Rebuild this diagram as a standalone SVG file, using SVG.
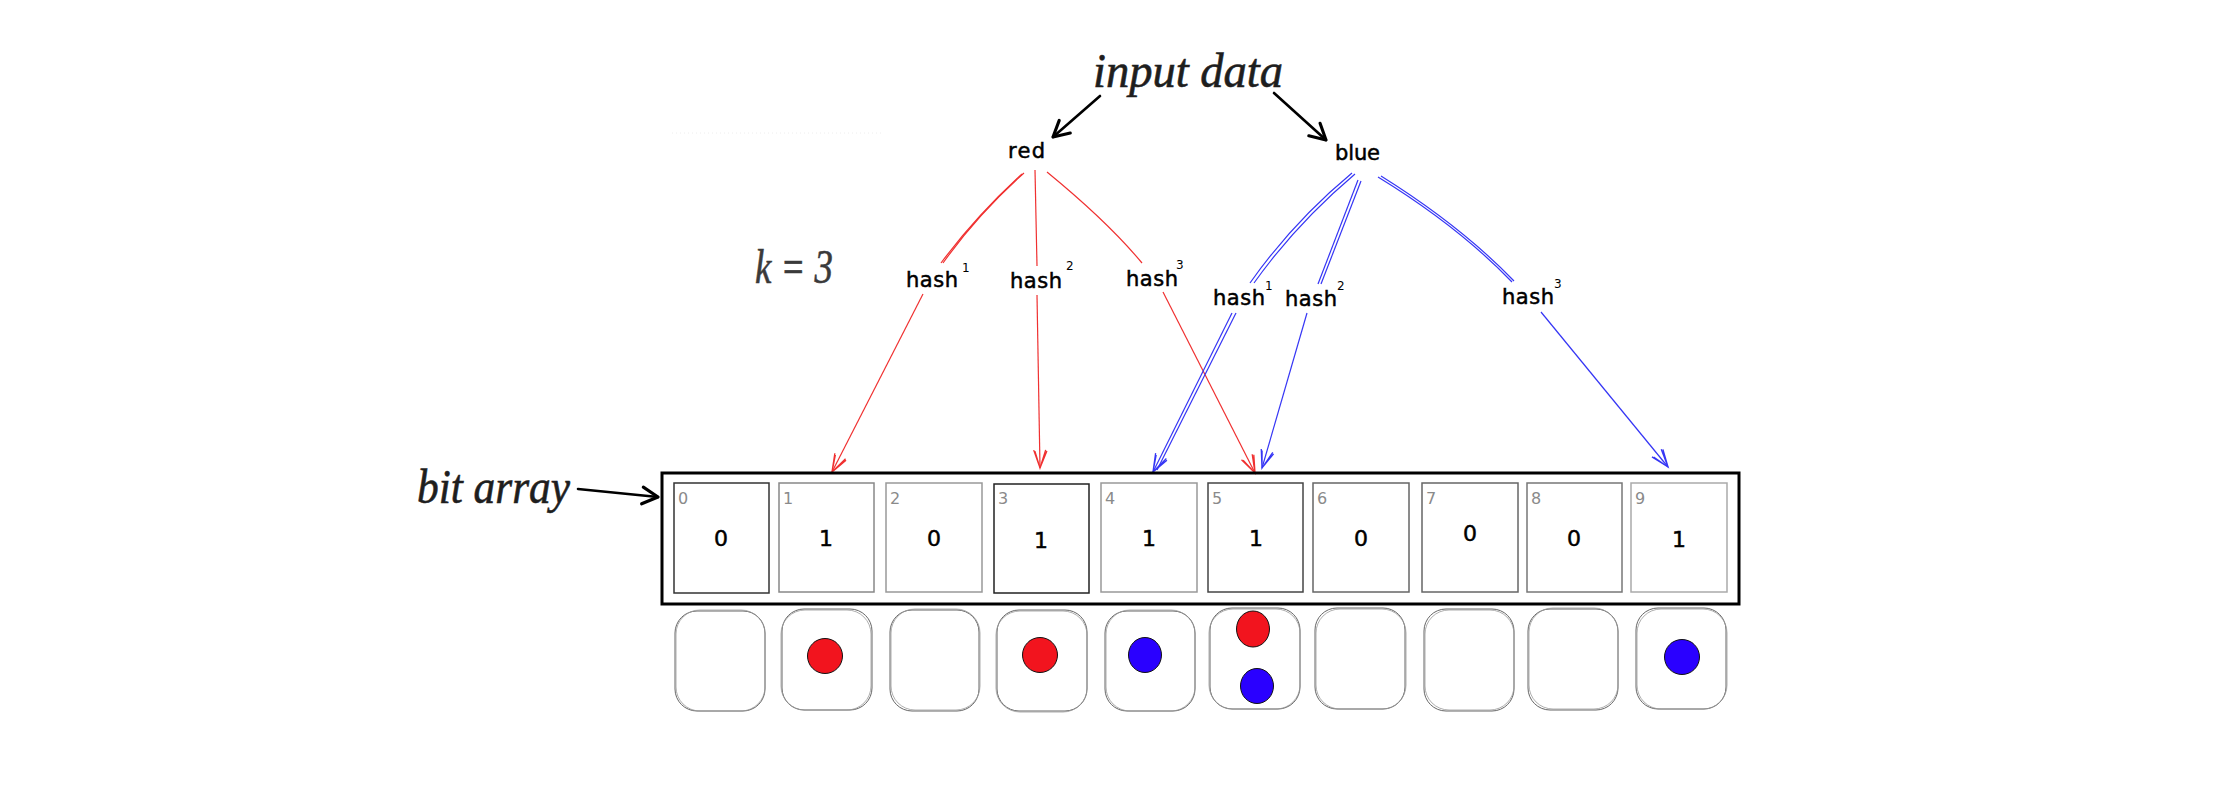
<svg xmlns="http://www.w3.org/2000/svg" width="2220" height="801" viewBox="0 0 2220 801">
<style>
  .title { font-family: "Liberation Serif", serif; font-style: italic; font-size: 48px; fill: #1e1e1e; stroke: #1e1e1e; stroke-width: 0.6px; }
  .lbl { font-family: "DejaVu Sans", sans-serif; font-size: 21px; fill: #000; stroke: #000; stroke-width: 0.5px; }
  .sup { font-family: "DejaVu Sans", sans-serif; font-size: 12px; fill: #000; }
  .idx { font-family: "DejaVu Sans", sans-serif; font-size: 16px; fill: #8a8a8a; }
  .val { font-family: "DejaVu Sans", sans-serif; font-size: 22px; fill: #000; stroke: #000; stroke-width: 0.5px; text-anchor: middle; }
  .cell { fill: #fff; stroke-width: 1.5; }
  .slot { fill: none; stroke: #666; stroke-width: 1; }
  .slot2 { fill: none; stroke: #999; stroke-width: 0.8; }
  .red { fill: none; stroke: #f03030; stroke-width: 1.2; }
  .blue { fill: none; stroke: #3535f5; stroke-width: 1.2; }
  .blk { fill: none; stroke: #000; stroke-width: 2.6; stroke-linecap: round; }
  .dotr { fill: #f2141e; stroke: #111; stroke-width: 1; }
  .dotb { fill: #2a00ff; stroke: #111; stroke-width: 1; }
</style>
<defs>
  <marker id="ahR" markerUnits="userSpaceOnUse" markerWidth="24" markerHeight="24" viewBox="-18 -9 20 18" refX="0" refY="0" orient="auto">
    <path d="M-15,-5 L0,0 L-15,5 M-14,-6 L0,0 L-14,4" fill="none" stroke="#f03030" stroke-width="1.1"/>
  </marker>
  <marker id="ahB" markerUnits="userSpaceOnUse" markerWidth="24" markerHeight="24" viewBox="-18 -9 20 18" refX="0" refY="0" orient="auto">
    <path d="M-15,-5 L0,0 L-15,5 M-14,-6 L0,0 L-14,4" fill="none" stroke="#3535f5" stroke-width="1.1"/>
  </marker>
  <marker id="ahK" markerUnits="userSpaceOnUse" markerWidth="24" markerHeight="24" viewBox="-18 -10 20 20" refX="0" refY="0" orient="auto">
    <path d="M-13,-7 L0,0 L-13,7" fill="none" stroke="#000" stroke-width="2.6" stroke-linecap="round" stroke-linejoin="round"/>
  </marker>
</defs>
<rect width="2220" height="801" fill="#fff"/>

<line x1="672" y1="133" x2="883" y2="133" stroke="#eeeeee" stroke-width="1" stroke-dasharray="1 3"/>

<g id="connectors">
  <path class="blk" d="M1100,96 L1053,137" marker-end="url(#ahK)"/>
  <path class="blk" d="M1274,93 L1326,140" marker-end="url(#ahK)"/>
  <path class="blk" d="M578,489 L658,497" marker-end="url(#ahK)"/>

  <path class="red" d="M1024,173 Q978,214 943,263"/>
  <path class="red" d="M1022,174 Q976,216 941,263"/>
  <path class="red" d="M923,294 L832,472" marker-end="url(#ahR)"/>
  <path class="red" d="M1035,170 L1037,266"/>
  <path class="red" d="M1037,295 L1040,468" marker-end="url(#ahR)"/>
  <path class="red" d="M1047,172 Q1108,222 1142,263"/>
  <path class="red" d="M1163,292 L1255,473" marker-end="url(#ahR)"/>

  <path class="blue" d="M1352,173 Q1293,222 1250,283"/>
  <path class="blue" d="M1355,174 Q1296,224 1254,283"/>
  <path class="blue" d="M1232,313 L1153,472" marker-end="url(#ahB)"/>
  <path class="blue" d="M1236,313 L1157,470"/>
  <path class="blue" d="M1358,180 L1318,284"/>
  <path class="blue" d="M1361,181 L1321,284"/>
  <path class="blue" d="M1307,313 L1262,468" marker-end="url(#ahB)"/>
  <path class="blue" d="M1378,177 Q1458,226 1512,282"/>
  <path class="blue" d="M1381,176 Q1461,226 1514,281"/>
  <path class="blue" d="M1541,312 Q1600,384 1668,467" marker-end="url(#ahB)"/>
</g>

<g id="input-data"><text class="title" x="1093" y="87" textLength="190" lengthAdjust="spacingAndGlyphs">input data</text></g>
<g id="k3"><text class="title" x="755" y="283" style="fill:#3a3a3a;stroke:#3a3a3a" textLength="78" lengthAdjust="spacingAndGlyphs">k = 3</text></g>
<g id="bit-array-label"><text class="title" x="417" y="503" textLength="153" lengthAdjust="spacingAndGlyphs">bit array</text></g>

<g id="red"><text class="lbl" x="1008" y="158" textLength="37">red</text></g>
<g id="blue"><text class="lbl" x="1335" y="160" textLength="45">blue</text></g>

<g id="red-hash1"><text class="lbl" x="906" y="287" textLength="52">hash</text><text class="sup" x="962" y="272">1</text></g>
<g id="red-hash2"><text class="lbl" x="1010" y="288" textLength="52">hash</text><text class="sup" x="1066" y="270">2</text></g>
<g id="red-hash3"><text class="lbl" x="1126" y="286" textLength="52">hash</text><text class="sup" x="1176" y="269">3</text></g>
<g id="blue-hash1"><text class="lbl" x="1213" y="305" textLength="52">hash</text><text class="sup" x="1265" y="290">1</text></g>
<g id="blue-hash2"><text class="lbl" x="1285" y="306" textLength="52">hash</text><text class="sup" x="1337" y="290">2</text></g>
<g id="blue-hash3"><text class="lbl" x="1502" y="304" textLength="52">hash</text><text class="sup" x="1554" y="288">3</text></g>

<g id="bit-array">
  <rect x="662" y="473" width="1077" height="131" fill="none" stroke="#000" stroke-width="3"/>
  <g id="cell0"><rect class="cell" x="674" y="483" width="95" height="110" stroke="#333"/><text class="idx" x="678" y="504">0</text><text class="val" x="721" y="546">0</text></g>
  <g id="cell1"><rect class="cell" x="779" y="483" width="95" height="109" stroke="#888"/><text class="idx" x="783" y="504">1</text><text class="val" x="826" y="546">1</text></g>
  <g id="cell2"><rect class="cell" x="886" y="483" width="96" height="109" stroke="#999"/><text class="idx" x="890" y="504">2</text><text class="val" x="934" y="546">0</text></g>
  <g id="cell3"><rect class="cell" x="994" y="484" width="95" height="109" stroke="#222"/><text class="idx" x="998" y="504">3</text><text class="val" x="1041" y="548">1</text></g>
  <g id="cell4"><rect class="cell" x="1101" y="483" width="96" height="109" stroke="#999"/><text class="idx" x="1105" y="504">4</text><text class="val" x="1149" y="546">1</text></g>
  <g id="cell5"><rect class="cell" x="1208" y="483" width="95" height="109" stroke="#444"/><text class="idx" x="1212" y="504">5</text><text class="val" x="1256" y="546">1</text></g>
  <g id="cell6"><rect class="cell" x="1313" y="483" width="96" height="109" stroke="#666"/><text class="idx" x="1317" y="504">6</text><text class="val" x="1361" y="546">0</text></g>
  <g id="cell7"><rect class="cell" x="1422" y="483" width="96" height="109" stroke="#666"/><text class="idx" x="1426" y="504">7</text><text class="val" x="1470" y="541">0</text></g>
  <g id="cell8"><rect class="cell" x="1527" y="483" width="95" height="109" stroke="#777"/><text class="idx" x="1531" y="504">8</text><text class="val" x="1574" y="546">0</text></g>
  <g id="cell9"><rect class="cell" x="1631" y="483" width="96" height="109" stroke="#aaa"/><text class="idx" x="1635" y="504">9</text><text class="val" x="1679" y="547">1</text></g>
</g>

<g id="slots">
  <g id="slot0"><rect class="slot" x="675" y="611" width="90" height="100" rx="22"/><rect class="slot2" x="676" y="610" width="89" height="101" rx="24"/></g>
  <g id="slot1"><rect class="slot" x="782" y="609" width="90" height="101" rx="22"/><rect class="slot2" x="781" y="610" width="90" height="100" rx="24"/>
    <circle class="dotr" cx="825" cy="656" r="17.5"/></g>
  <g id="slot2"><rect class="slot" x="890" y="610" width="89" height="101" rx="22"/><rect class="slot2" x="891" y="609" width="89" height="101" rx="24"/></g>
  <g id="slot3"><rect class="slot" x="997" y="610" width="90" height="101" rx="22"/><rect class="slot2" x="996" y="611" width="91" height="101" rx="24"/>
    <ellipse class="dotr" cx="1040" cy="655" rx="17.5" ry="17.5"/></g>
  <g id="slot4"><rect class="slot" x="1105" y="611" width="90" height="100" rx="22"/><rect class="slot2" x="1106" y="610" width="89" height="101" rx="24"/>
    <ellipse class="dotb" cx="1145" cy="655" rx="16.5" ry="17.5"/></g>
  <g id="slot5"><rect class="slot" x="1210" y="608" width="90" height="101" rx="22"/><rect class="slot2" x="1209" y="609" width="91" height="100" rx="24"/>
    <ellipse class="dotr" cx="1253" cy="629" rx="16.5" ry="18"/>
    <ellipse class="dotb" cx="1257" cy="686" rx="16.5" ry="17.5"/></g>
  <g id="slot6"><rect class="slot" x="1315" y="608" width="90" height="101" rx="22"/><rect class="slot2" x="1316" y="609" width="90" height="100" rx="24"/></g>
  <g id="slot7"><rect class="slot" x="1424" y="609" width="90" height="102" rx="22"/><rect class="slot2" x="1425" y="610" width="89" height="100" rx="24"/></g>
  <g id="slot8"><rect class="slot" x="1528" y="609" width="90" height="101" rx="22"/><rect class="slot2" x="1529" y="608" width="89" height="101" rx="24"/></g>
  <g id="slot9"><rect class="slot" x="1636" y="608" width="90" height="101" rx="22"/><rect class="slot2" x="1637" y="609" width="90" height="100" rx="24"/>
    <circle class="dotb" cx="1682" cy="657" r="17.5"/></g>
</g>
</svg>
